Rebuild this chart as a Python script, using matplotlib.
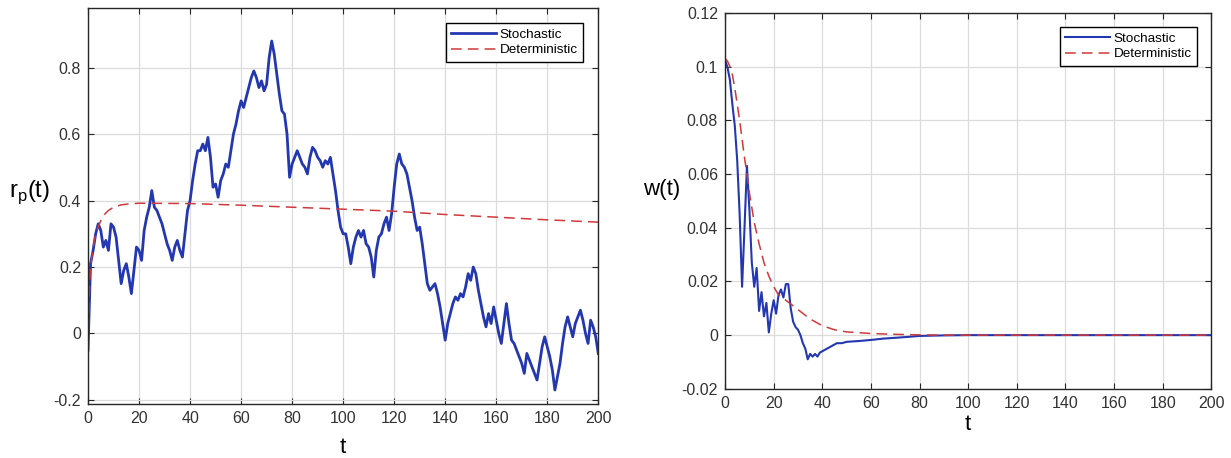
import matplotlib
matplotlib.use("Agg")
import matplotlib.pyplot as plt
import numpy as np

plt.rcParams["font.family"] = ["Liberation Sans", "DejaVu Sans"]

# left panel: r_p(t) at t = 0, 1, ..., 200
t_rp = np.arange(0, 201)
rp_stoch = [
    -0.05, 0.21, 0.25, 0.30, 0.33, 0.31, 0.26, 0.28, 0.25, 0.33,
    0.32, 0.29, 0.22, 0.15, 0.19, 0.21, 0.17, 0.12, 0.19, 0.26,
    0.25, 0.22, 0.31, 0.35, 0.38, 0.43, 0.38, 0.37, 0.35, 0.33,
    0.30, 0.27, 0.25, 0.22, 0.26, 0.28, 0.25, 0.23, 0.30, 0.37,
    0.40, 0.46, 0.51, 0.55, 0.55, 0.57, 0.55, 0.59, 0.53, 0.44,
    0.45, 0.41, 0.46, 0.48, 0.51, 0.50, 0.55, 0.60, 0.63, 0.67,
    0.70, 0.68, 0.71, 0.74, 0.77, 0.79, 0.77, 0.74, 0.76, 0.73,
    0.75, 0.83, 0.88, 0.84, 0.78, 0.72, 0.67, 0.66, 0.60, 0.47,
    0.51, 0.53, 0.55, 0.53, 0.51, 0.50, 0.48, 0.53, 0.56, 0.55,
    0.53, 0.52, 0.50, 0.52, 0.51, 0.53, 0.48, 0.43, 0.37, 0.32,
    0.30, 0.30, 0.26, 0.21, 0.26, 0.29, 0.31, 0.29, 0.31, 0.27,
    0.26, 0.23, 0.17, 0.25, 0.29, 0.30, 0.33, 0.35, 0.31, 0.36,
    0.44, 0.51, 0.54, 0.51, 0.50, 0.48, 0.44, 0.40, 0.35, 0.31,
    0.32, 0.27, 0.21, 0.15, 0.13, 0.14, 0.15, 0.12, 0.08, 0.03,
    -0.02, 0.03, 0.06, 0.09, 0.11, 0.10, 0.12, 0.11, 0.14, 0.18,
    0.16, 0.20, 0.18, 0.13, 0.09, 0.05, 0.02, 0.06, 0.03, 0.08,
    0.04, 0.00, -0.03, 0.03, 0.09, 0.03, -0.02, -0.03, -0.05, -0.07,
    -0.09, -0.12, -0.06, -0.08, -0.10, -0.12, -0.14, -0.09, -0.04, -0.01,
    -0.04, -0.07, -0.11, -0.17, -0.13, -0.09, -0.03, 0.02, 0.05, 0.02,
    -0.01, 0.03, 0.05, 0.07, 0.04, 0.00, -0.03, 0.04, 0.02, -0.01,
    -0.06,
]
t_rp_det = [0, 0.5, 1, 2, 3, 4, 5, 6, 8, 10, 13, 16, 20, 40, 60, 80, 100, 120, 140, 160, 180, 200]
rp_det = [-0.04, 0.12, 0.20, 0.26, 0.30, 0.32, 0.34, 0.355, 0.37, 0.38, 0.387, 0.39,
          0.392, 0.391, 0.386, 0.38, 0.374, 0.368, 0.358, 0.35, 0.342, 0.335]

# right panel: w(t)
t_w = [0, 1, 2, 3, 4, 5, 6, 7, 8, 9, 10, 11, 12, 13, 14, 15, 16, 17, 18, 19,
       20, 21, 22, 23, 24, 25, 26, 27, 28, 29, 30, 31, 32, 33, 34, 35, 36, 37, 38, 39,
       40, 42, 44, 46, 48, 50, 55, 60, 65, 70, 76, 80, 90, 100, 200]
w_stoch = [0.1025, 0.0997, 0.095, 0.086, 0.078, 0.065, 0.045, 0.018, 0.040, 0.063,
           0.047, 0.027, 0.018, 0.025, 0.009, 0.016, 0.007, 0.012, 0.001, 0.008,
           0.013, 0.008, 0.015, 0.017, 0.014, 0.019, 0.019, 0.010, 0.005, 0.003,
           0.002, 0.000, -0.003, -0.005, -0.009, -0.007, -0.008, -0.007, -0.008, -0.0065,
           -0.006, -0.005, -0.004, -0.003, -0.003, -0.0025, -0.0022, -0.0018, -0.0013, -0.001,
           -0.0006, -0.0003, -0.0001, 0.0, 0.0]
t_w_det = [0, 1, 2, 3, 4, 5, 6, 7, 8, 9, 10, 12, 14, 16, 18, 20, 22, 25, 30, 35,
           40, 45, 50, 60, 70, 80, 90, 200]
w_det = [0.103, 0.102, 0.100, 0.097, 0.092, 0.086, 0.080, 0.073, 0.066, 0.060,
         0.053, 0.042, 0.034, 0.027, 0.022, 0.018, 0.015, 0.013, 0.0095, 0.006,
         0.0035, 0.002, 0.0012, 0.0006, 0.0003, 0.0001, 0.0, 0.0]

BLUE = "#2338b0"
RED = "#d0393b"
EDGE = "#262626"


def style_axes(ax):
    ax.grid(True, color="#dcdcdc", lw=0.9)
    ax.set_axisbelow(True)
    ax.tick_params(direction="in", top=True, right=True, length=4,
                   color=EDGE, labelsize=11.5, labelcolor="#333333", pad=5)
    for s in ax.spines.values():
        s.set_color(EDGE)
        s.set_linewidth(1.0)
    ax.set_xlim(0, 200)
    ax.set_xticks(np.arange(0, 201, 20))


def add_legend(ax, dx, dy):
    leg = ax.legend(loc="upper right", bbox_to_anchor=(1 - dx, 1 - dy),
                    borderaxespad=0, fontsize=9.7, handlelength=3.3,
                    handletextpad=0.3, labelspacing=0.25, borderpad=0.4,
                    fancybox=False, framealpha=1)
    leg.get_frame().set_edgecolor("black")
    leg.get_frame().set_linewidth(1.0)


fig = plt.figure(figsize=(12.31, 4.58), dpi=100)

ax1 = fig.add_axes([0.0715, 0.118, 0.4145, 0.865])
ax1.plot(t_rp, rp_stoch, color=BLUE, lw=2.0, label="Stochastic")
ax1.plot(t_rp_det, rp_det, color=RED, lw=1.1, ls=(0, (7, 4)), label="Deterministic")
style_axes(ax1)
ax1.set_ylim(-0.212, 0.98)
ax1.set_yticks([-0.2, 0, 0.2, 0.4, 0.6, 0.8])
ax1.set_yticklabels(["-0.2", "0", "0.2", "0.4", "0.6", "0.8"])
ax1.set_xlabel("t", fontsize=16, labelpad=8)
ax1.set_ylabel(r"r$_\mathregular{p}$(t)", fontsize=17, rotation=0, va="center", ha="center")
ax1.yaxis.set_label_coords(-0.115, 0.535)
add_legend(ax1, 15 / 510, 15 / 396)

ax2 = fig.add_axes([0.589, 0.151, 0.395, 0.821])
ax2.plot(t_w, w_stoch, color=BLUE, lw=1.5, label="Stochastic")
ax2.plot(t_w_det, w_det, color=RED, lw=1.1, ls=(0, (7, 4)), label="Deterministic")
style_axes(ax2)
ax2.set_ylim(-0.02, 0.12)
ax2.set_yticks(np.arange(-0.02, 0.121, 0.02))
ax2.set_yticklabels(["-0.02", "0", "0.02", "0.04", "0.06", "0.08", "0.1", "0.12"])
ax2.set_xlabel("t", fontsize=16, labelpad=2)
ax2.set_ylabel("w(t)", fontsize=16, rotation=0, va="center", ha="center")
ax2.yaxis.set_label_coords(-0.13, 0.53)
add_legend(ax2, 14 / 486, 14 / 376)

fig.savefig("out.png", dpi=100)
